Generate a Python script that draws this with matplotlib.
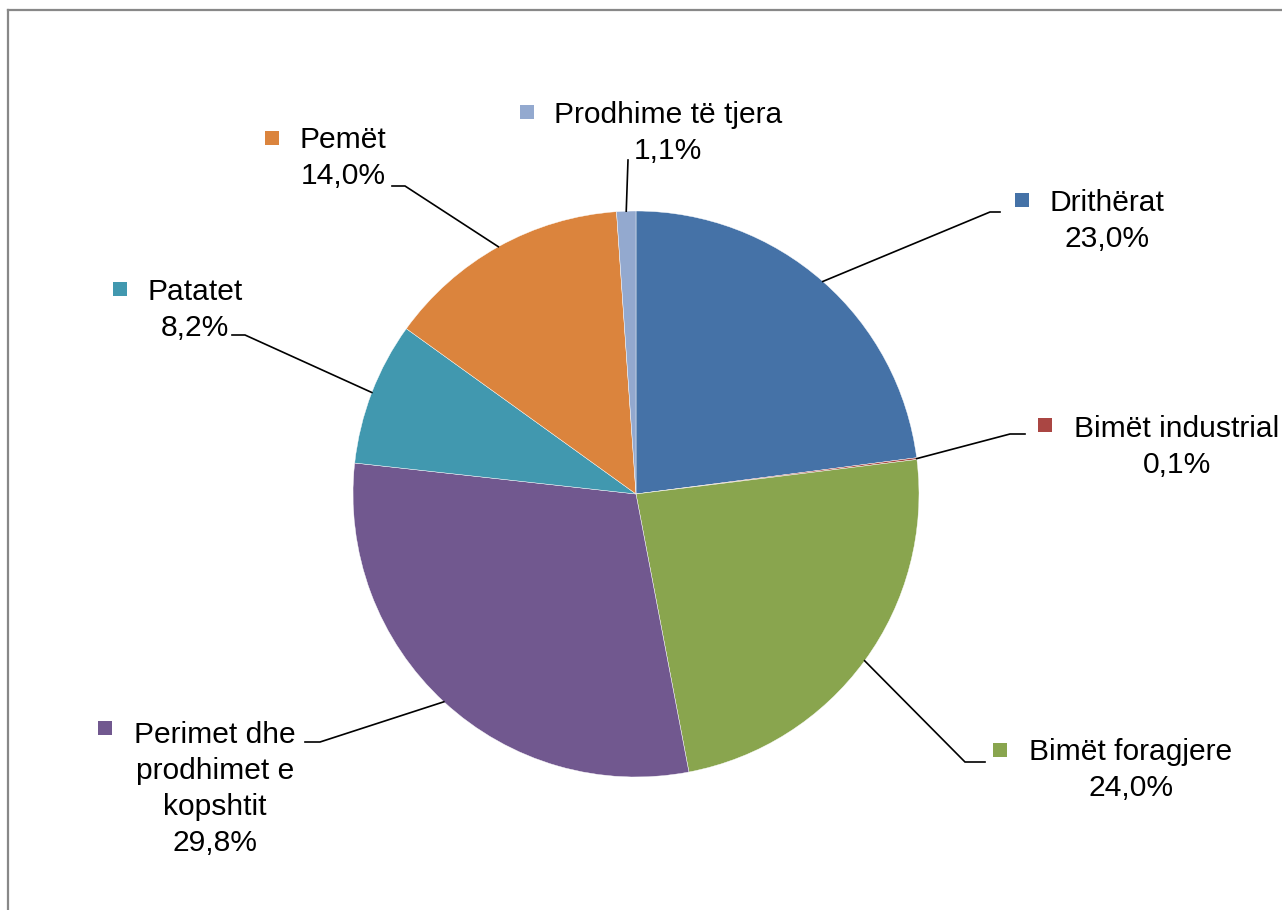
import numpy as np
import matplotlib
matplotlib.use("Agg")
import matplotlib.pyplot as plt
from matplotlib.lines import Line2D

categories = ["Drithërat", "Bimët industrial", "Bimët foragjere",
              "Perimet dhe prodhimet e kopshtit", "Patatet", "Pemët",
              "Prodhime të tjera"]
values = [23.0, 0.1, 24.0, 29.8, 8.2, 14.0, 1.1]
label_lines = [["Drithërat", "23,0%"],
               ["Bimët industrial", "0,1%"],
               ["Bimët foragjere", "24,0%"],
               ["Perimet dhe", "prodhimet e", "kopshtit", "29,8%"],
               ["Patatet", "8,2%"],
               ["Pemët", "14,0%"],
               ["Prodhime të tjera", "1,1%"]]
colors = ["#4572A7", "#AA4643", "#89A54E", "#71588F", "#4198AF", "#DB843D", "#93A9CF"]

W, H = 1282, 910
fig = plt.figure(figsize=(W / 100, H / 100), dpi=100)
ax = fig.add_axes([0, 0, 1, 1])

def Y(y):
    return H - y

cx, cy, R = 636, Y(494), 283
wedges, _ = ax.pie(values, colors=colors, startangle=90, counterclock=False,
                   center=(cx, cy), radius=R, frame=True,
                   wedgeprops=dict(linewidth=0.3, edgecolor="white"))
ax.set_xlim(0, W)
ax.set_ylim(0, H)
ax.set_aspect("equal")
ax.axis("off")

# layout: (text center x, first baseline y, marker x, marker y, elbow, end)
layout = [
    (1107, 211, 1022, 200, (990, 212), (1000, 212)),
    (1177, 437, 1045, 425, (1010, 434), (1025, 434)),
    (1131, 760, 1000, 750, (965, 762), (985, 762)),
    (215, 743, 105, 728, (320, 742), (305, 742)),
    (195, 300, 120, 289, (245, 335), (232, 335)),
    (343, 148, 272, 138, (405, 186), (392, 186)),
    (668, 123, 527, 112, (628, 160), (628, 160)),
]

fs = 21.6
for w, lines, col, (tx, ty, mx, my, elbow, end) in zip(wedges, label_lines, colors, layout):
    for i, ln in enumerate(lines):
        ax.text(tx, Y(ty + i * 36), ln, ha="center", va="baseline",
                fontsize=fs, family=["Liberation Sans", "DejaVu Sans"], color="black")
    ax.plot([mx], [Y(my)], marker="s", markersize=10, color=col,
            markeredgewidth=0, linestyle="none")
    mid = np.deg2rad((w.theta1 + w.theta2) / 2)
    sx = cx + R * np.cos(mid)
    sy = cy + R * np.sin(mid)
    ax.plot([sx, elbow[0], end[0]], [sy, Y(elbow[1]), Y(end[1])],
            color="black", linewidth=1.2, solid_joinstyle="miter")

# outer chart border (partially visible)
fig.add_artist(Line2D([8 / W, 8 / W], [0, 1 - 10 / H], transform=fig.transFigure,
                      color="#888888", linewidth=1.6))
fig.add_artist(Line2D([8 / W, 1], [1 - 10 / H, 1 - 10 / H], transform=fig.transFigure,
                      color="#888888", linewidth=1.6))

fig.savefig("out.png", dpi=100, facecolor="white")
